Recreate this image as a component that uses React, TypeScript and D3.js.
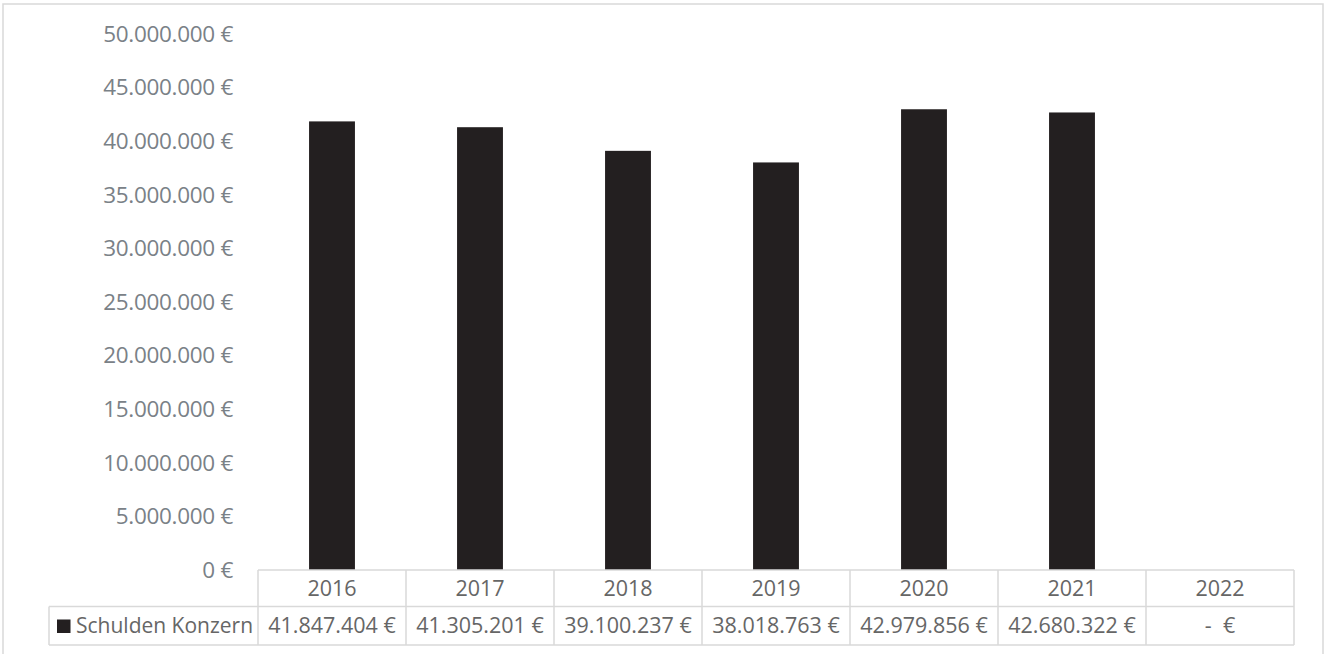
import React from "react";
import * as d3 from "d3";

const years = ["2016", "2017", "2018", "2019", "2020", "2021", "2022"];
const values = [41847404, 41305201, 39100237, 38018763, 42979856, 42680322, 0];
const valueLabels = ["41.847.404 €", "41.305.201 €", "39.100.237 €", "38.018.763 €", "42.979.856 €", "42.680.322 €", "-  €"];
const yTicks = [0, 5000000, 10000000, 15000000, 20000000, 25000000, 30000000, 35000000, 40000000, 45000000, 50000000];
const seriesName = "Schulden Konzern";

const W = 1328;
const H = 654;
const FONT = "'Open Sans', sans-serif";

const fmt = (v: number) => {
  if (v === 0) return "0 €";
  return d3.format(",")(v).replace(/,/g, ".") + " €";
};

export default function App() {
  const x = d3.scaleBand<string>().domain(years).range([258, 1294]).padding(0);
  const y = d3.scaleLinear().domain([0, 50000000]).range([570, 34]);
  const bw = x.bandwidth();
  const barW = bw * 0.31;
  const gridColor = "#d9d9d9";
  const row1Top = 570;
  const row1Bot = 606.5;
  const row2Bot = 645;
  const legendLeft = 49;

  return (
    <svg width={W} height={H} style={{ position: "absolute", left: 0, top: 0, background: "#fff" }} fontFamily={FONT}>
      <rect x={3} y={4} width={1320} height={700} fill="none" stroke={gridColor} strokeWidth={1.5} />
      {yTicks.map((t) => (
        <text key={t} x={233} y={y(t)} dy="0.35em" textAnchor="end" fontSize={22.5} fill="#7a8187" letterSpacing={-0.3}>
          {fmt(t)}
        </text>
      ))}
      {years.map((yr, i) =>
        values[i] > 0 ? (
          <rect
            key={yr}
            x={(x(yr) as number) + (bw - barW) / 2}
            y={y(values[i])}
            width={barW}
            height={y(0) - y(values[i])}
            fill="#231f20"
          />
        ) : null
      )}
      <g stroke={gridColor} strokeWidth={1.5} fill="none">
        <line x1={258} x2={1294} y1={row1Top} y2={row1Top} />
        <line x1={legendLeft} x2={1294} y1={row1Bot} y2={row1Bot} />
        <line x1={legendLeft} x2={1294} y1={row2Bot} y2={row2Bot} />
        <line x1={legendLeft} x2={legendLeft} y1={row1Bot} y2={row2Bot} />
        {years.map((yr) => (
          <line key={yr} x1={x(yr) as number} x2={x(yr) as number} y1={row1Top} y2={row2Bot} />
        ))}
        <line x1={1294} x2={1294} y1={row1Top} y2={row2Bot} />
      </g>
      {years.map((yr, i) => (
        <g key={yr}>
          <text x={(x(yr) as number) + bw / 2} y={(row1Top + row1Bot) / 2} dy="0.35em" textAnchor="middle" fontSize={21.5} fill="#666">
            {yr}
          </text>
          <text x={(x(yr) as number) + bw / 2} y={(row1Bot + row2Bot) / 2} dy="0.35em" textAnchor="middle" fontSize={21.5} fill="#666" style={{ whiteSpace: "pre" }}>
            {valueLabels[i]}
          </text>
        </g>
      ))}
      <rect x={57} y={619.5} width={13.5} height={13.5} fill="#231f20" />
      <text x={76} y={(row1Bot + row2Bot) / 2} dy="0.35em" fontSize={21} fill="#666">
        {seriesName}
      </text>
    </svg>
  );
}
